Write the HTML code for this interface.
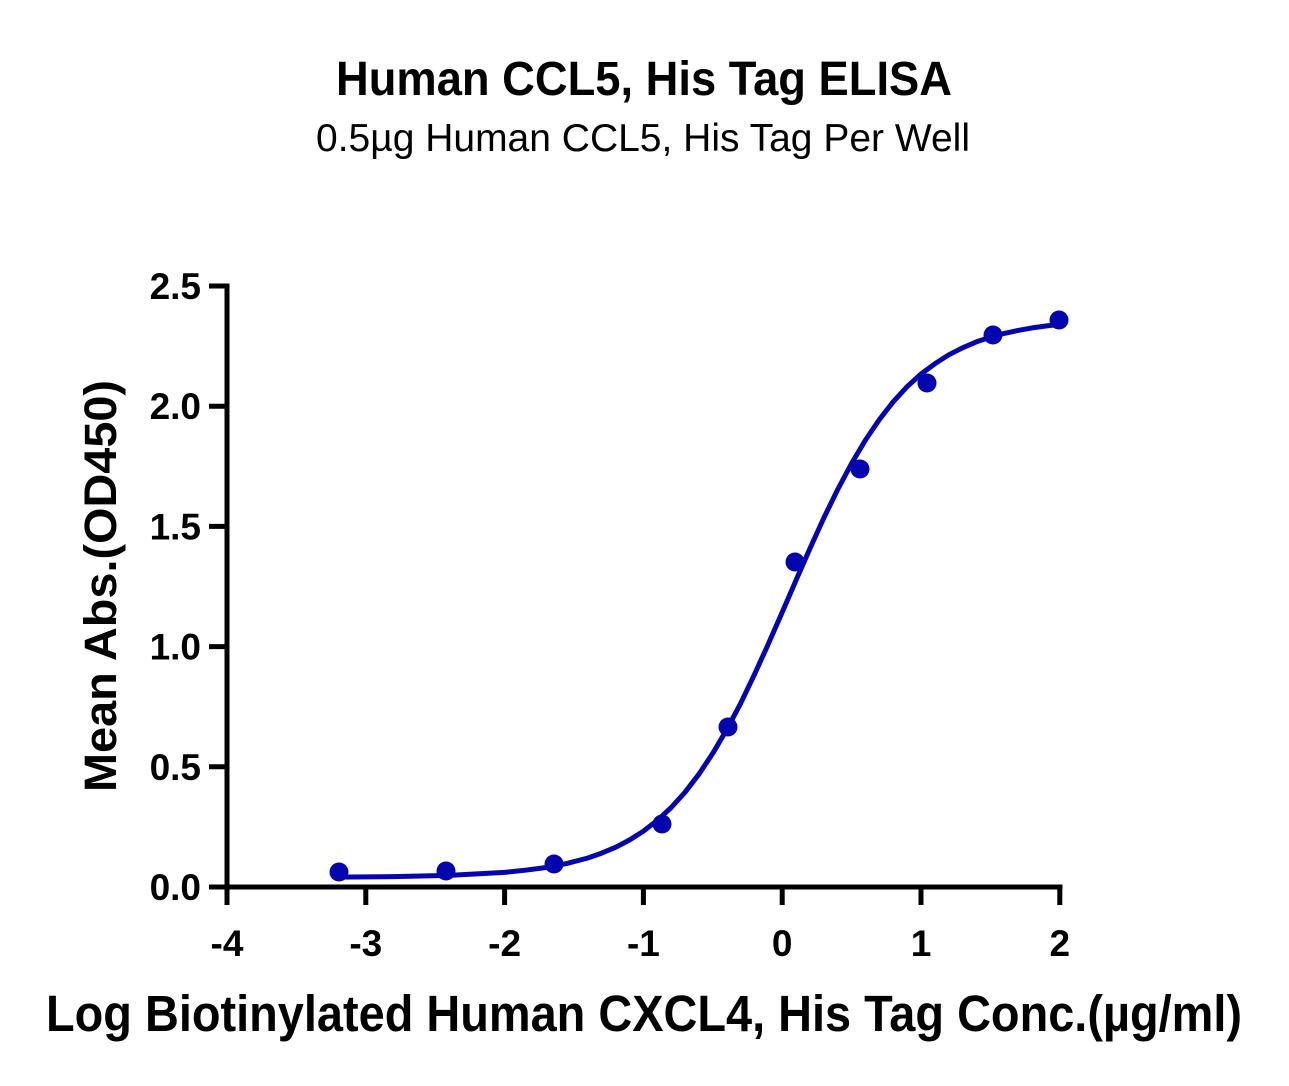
<!DOCTYPE html>
<html>
<head>
<meta charset="utf-8">
<style>
  html,body{margin:0;padding:0;background:#fff;}
  svg{display:block;}
  text{font-family:"Liberation Sans",sans-serif;fill:#000;}
</style>
</head>
<body>
<svg width="1289" height="1086" viewBox="0 0 1289 1086" xmlns="http://www.w3.org/2000/svg">
  <rect x="0" y="0" width="1289" height="1086" fill="#fff"/>

  <!-- Titles -->
  <text x="644" y="95" text-anchor="middle" font-size="48" font-weight="bold" textLength="616" lengthAdjust="spacingAndGlyphs">Human CCL5, His Tag ELISA</text>
  <text x="643" y="151" text-anchor="middle" font-size="39" textLength="654" lengthAdjust="spacingAndGlyphs">0.5µg Human CCL5, His Tag Per Well</text>

  <!-- Axes -->
  <g stroke="#000" stroke-width="5" fill="none" stroke-linecap="butt">
    <line x1="227" y1="283.5" x2="227" y2="889.5"/>
    <line x1="224.5" y1="887" x2="1062.5" y2="887"/>
    <!-- y ticks -->
    <line x1="209" y1="286" x2="227" y2="286"/>
    <line x1="209" y1="406.2" x2="227" y2="406.2"/>
    <line x1="209" y1="526.4" x2="227" y2="526.4"/>
    <line x1="209" y1="646.6" x2="227" y2="646.6"/>
    <line x1="209" y1="766.8" x2="227" y2="766.8"/>
    <line x1="209" y1="887" x2="227" y2="887"/>
    <!-- x ticks -->
    <line x1="227" y1="887" x2="227" y2="905"/>
    <line x1="365.8" y1="887" x2="365.8" y2="905"/>
    <line x1="504.6" y1="887" x2="504.6" y2="905"/>
    <line x1="643.4" y1="887" x2="643.4" y2="905"/>
    <line x1="782.2" y1="887" x2="782.2" y2="905"/>
    <line x1="921" y1="887" x2="921" y2="905"/>
    <line x1="1059.8" y1="887" x2="1059.8" y2="905"/>
  </g>

  <!-- Y tick labels -->
  <g font-size="37" font-weight="bold" text-anchor="end">
    <text x="201" y="299">2.5</text>
    <text x="201" y="419.2">2.0</text>
    <text x="201" y="539.4">1.5</text>
    <text x="201" y="659.6">1.0</text>
    <text x="201" y="779.8">0.5</text>
    <text x="201" y="900">0.0</text>
  </g>

  <!-- X tick labels -->
  <g font-size="37" font-weight="bold" text-anchor="middle">
    <text x="227" y="956">-4</text>
    <text x="365.8" y="956">-3</text>
    <text x="504.6" y="956">-2</text>
    <text x="643.4" y="956">-1</text>
    <text x="782.2" y="956">0</text>
    <text x="921" y="956">1</text>
    <text x="1059.8" y="956">2</text>
  </g>

  <!-- Axis titles -->
  <text transform="translate(116,586) rotate(-90)" x="0" y="0" text-anchor="middle" font-size="45" font-weight="bold" textLength="412" lengthAdjust="spacingAndGlyphs">Mean Abs.(OD450)</text>
  <text x="644" y="1031" text-anchor="middle" font-size="51" font-weight="bold" textLength="1196" lengthAdjust="spacingAndGlyphs">Log Biotinylated Human CXCL4, His Tag Conc.(µg/ml)</text>

  <!-- Fitted curve -->
  <polyline fill="none" stroke="#0505b0" stroke-width="5" stroke-linejoin="round" stroke-linecap="round"
    points="338.0,877.1 393.6,876.6 449.1,875.4 504.6,872.4 525.4,870.2 546.2,867.5 567.0,863.4 587.9,858.0 601.7,853.1 615.6,847.3 629.5,840.0 643.4,831.2 657.3,820.4 671.2,807.5 685.1,792.2 698.9,774.2 712.8,753.3 726.7,729.7 740.6,703.4 754.4,674.6 768.3,644.0 782.2,612.2 796.1,580.1 810.0,548.4 823.8,518.0 837.7,489.5 851.6,463.4 865.5,440.0 879.4,419.5 893.2,401.8 907.1,386.7 921.0,374.0 934.9,363.7 948.8,354.8 962.6,347.8 976.5,341.8 990.4,337.3 1004.3,333.4 1018.1,330.4 1032.0,327.9 1045.9,326.0 1059.8,324.3"/>

  <!-- Data points -->
  <g fill="#0505b0">
    <circle cx="339" cy="872" r="9.5"/>
    <circle cx="446" cy="871" r="9.5"/>
    <circle cx="554" cy="864" r="9.5"/>
    <circle cx="662" cy="824" r="9.5"/>
    <circle cx="728" cy="727" r="9.5"/>
    <circle cx="795" cy="562" r="9.5"/>
    <circle cx="860" cy="469" r="9.5"/>
    <circle cx="927" cy="383" r="9.5"/>
    <circle cx="993" cy="335" r="9.5"/>
    <circle cx="1059" cy="320" r="9.5"/>
  </g>
</svg>
</body>
</html>
